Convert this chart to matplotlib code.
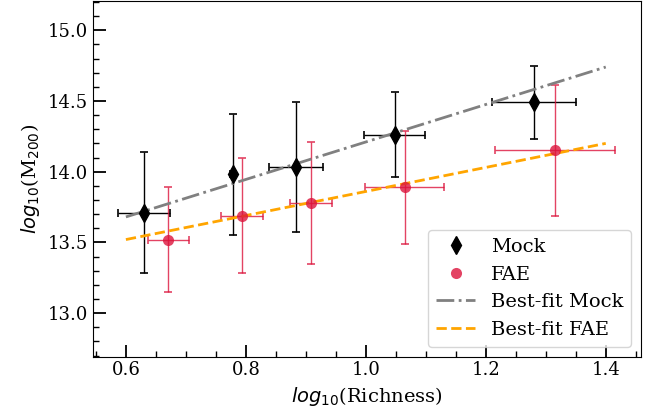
import numpy as np
import matplotlib.pyplot as plt
from matplotlib.ticker import MultipleLocator

plt.rcParams['font.family'] = 'DejaVu Serif'
plt.rcParams['mathtext.fontset'] = 'dejavusans'

# Binned mass-richness relation, mock catalogue
mock_x = [0.630, 0.778, 0.884, 1.048, 1.280]
mock_y = [13.71, 13.98, 14.03, 14.26, 14.49]
mock_xerr = [0.044, 0.004, 0.045, 0.051, 0.070]
mock_yerr = [0.43, 0.43, 0.46, 0.30, 0.26]

# Same relation measured with FAE
fae_x = [0.671, 0.793, 0.908, 1.065, 1.315]
fae_y = [13.52, 13.69, 13.78, 13.89, 14.15]
fae_xerr = [0.035, 0.035, 0.035, 0.066, 0.100]
fae_yerr = [0.37, 0.41, 0.43, 0.40, 0.465]

# Best-fit lines, evaluated at the ends of the fitted range
fit_x = [0.6, 1.4]
mock_fit = [13.68, 14.74]
fae_fit = [13.52, 14.20]

fae_color = '#dc143c'

fig, ax = plt.subplots(figsize=(6.59, 4.16), dpi=100)
fig.subplots_adjust(left=0.141, right=0.972, top=0.997, bottom=0.143)

ax.errorbar(mock_x, mock_y, xerr=mock_xerr, yerr=mock_yerr, fmt='none',
            ecolor='k', elinewidth=1, capsize=3, capthick=1.2)
ax.plot(mock_x, mock_y, 'd', color='k', markersize=9, label='Mock', zorder=4)

ax.errorbar(fae_x, fae_y, xerr=fae_xerr, yerr=fae_yerr, fmt='none',
            ecolor=fae_color, alpha=0.8, elinewidth=1, capsize=3, capthick=1.2)
ax.plot(fae_x, fae_y, 'o', color=fae_color, alpha=0.8, markersize=8,
        markeredgewidth=0, label='FAE', zorder=4)

ax.plot(fit_x, mock_fit, '-.', color='gray', linewidth=2, label='Best-fit Mock')
ax.plot(fit_x, fae_fit, '--', color='orange', linewidth=2, label='Best-fit FAE')

ax.set_xlim(0.545, 1.458)
ax.set_ylim(12.693, 15.205)
ax.xaxis.set_major_locator(MultipleLocator(0.2))
ax.xaxis.set_minor_locator(MultipleLocator(0.05))
ax.yaxis.set_major_locator(MultipleLocator(0.5))
ax.yaxis.set_minor_locator(MultipleLocator(0.1))
ax.tick_params(which='both', direction='in', top=False, right=False, labelsize=13)
ax.tick_params(which='major', length=9, width=1.3)
ax.tick_params(which='minor', length=4.5, width=1)

ax.set_xlabel(r'$log_{10}$(Richness)', fontsize=14)
ax.set_ylabel(r'$log_{10}$(M$_{200}$)', fontsize=14)
ax.legend(loc='lower right', fontsize=14)

plt.savefig('out.png', dpi=100)
